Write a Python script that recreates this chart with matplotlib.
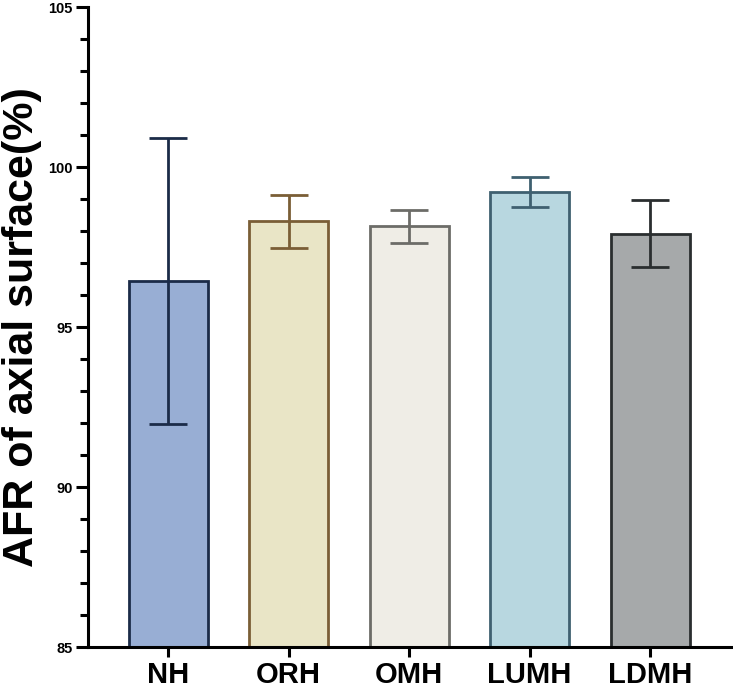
import matplotlib.pyplot as plt
import numpy as np

# datos
grupos = ["NH", "ORH", "OMH", "LUMH", "LDMH"]
medias = [96.44, 98.30, 98.15, 99.23, 97.92]
errores = [4.46, 0.84, 0.52, 0.47, 1.06]
rellenos = ["#98AED4", "#E9E5C6", "#EFEDE6", "#B8D7E0", "#A6A9AA"]
bordes = ["#1B2B48", "#7A5E36", "#6C6C68", "#3F6070", "#2A2E2F"]

plt.rcParams['font.family'] = ['Liberation Sans', 'DejaVu Sans']
plt.rcParams['font.weight'] = 'bold'

fig = plt.figure(figsize=(7.33, 6.94), dpi=100)
ax = fig.add_axes([0.12, 0.0677, 0.8786, 0.9222])

x = np.arange(len(grupos))
ax.bar(x, [m - 85 for m in medias], bottom=85, width=0.655,
       color=rellenos, edgecolor=bordes, linewidth=2, zorder=2)
for xi, m, e, c in zip(x, medias, errores, bordes):
    ax.errorbar(xi, m, yerr=e, fmt="none", ecolor=c, elinewidth=2,
                capsize=14, capthick=2, zorder=3)

ax.set_xlim(-0.665, 4.68)
ax.set_ylim(85, 105)
ax.set_yticks([85, 90, 95, 100, 105])
ax.set_yticks(np.arange(85, 106, 1), minor=True)
ax.set_xticks(x)
ax.set_xticklabels(grupos, fontsize=21, fontweight="bold")
for lab in ax.get_yticklabels():
    lab.set_fontsize(10.5)
    lab.set_fontweight("bold")

ax.spines["top"].set_visible(False)
ax.spines["right"].set_visible(False)
ax.spines["left"].set_linewidth(2.2)
ax.spines["bottom"].set_linewidth(2.2)
ax.tick_params(axis="y", which="major", length=9, width=2.2, pad=2)
ax.tick_params(axis="y", which="minor", length=6, width=2.2)
ax.tick_params(axis="x", which="major", length=7, width=2.2, pad=3)

ax.set_ylabel("AFR of axial surface(%)", fontsize=31, fontweight="bold")
ax.yaxis.set_label_coords(-0.072, 0.50)

fig.savefig("out.png", dpi=100)
